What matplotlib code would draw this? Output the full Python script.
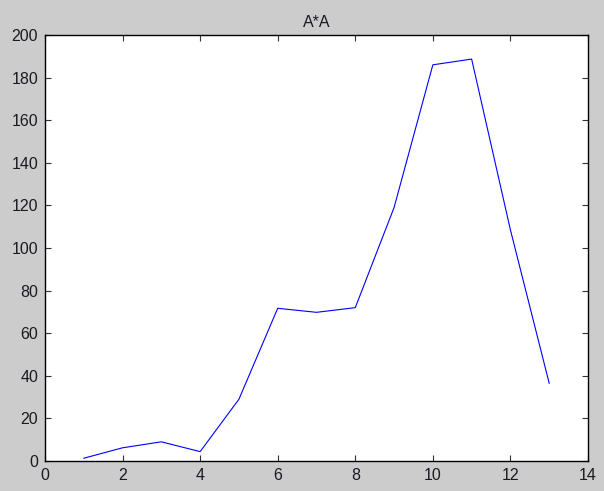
import matplotlib
matplotlib.use("Agg")
import matplotlib.pyplot as plt

# values
x_values = [1, 2, 3, 4, 5, 6, 7, 8, 9, 10, 11, 12, 13]
y_values = [1.3, 6.2, 9, 4.4, 29, 71.7, 69.8, 72, 119, 186, 188.7, 108.5, 36.5]
chart_title = "A*A"

plt.rcParams['font.family'] = ['Liberation Sans', 'DejaVu Sans']

fig = plt.figure(figsize=(6.04, 4.91), dpi=100, facecolor="#cccccc")
ax = fig.add_axes([0.0745, 0.0611, 0.899, 0.8676])

# Draw the line
ax.plot(x_values, y_values, color="#0000ff", linewidth=0.8)

# MATLAB-like axes
ax.set_xlim(0, 14)
ax.set_ylim(0, 200)
ax.set_xticks(range(0, 15, 2))
ax.set_yticks(range(0, 201, 20))
ax.tick_params(direction="in", top=True, right=True, length=4, pad=5,
               labelsize=11.5, color="#333333", labelcolor="#1a1a22")
for spine in ax.spines.values():
    spine.set_linewidth(1.0)
    spine.set_color("#000000")

ax.set_title(chart_title, fontsize=11.5, pad=6, color="#1a1a22")

fig.savefig("out.png", dpi=100, facecolor=fig.get_facecolor())
